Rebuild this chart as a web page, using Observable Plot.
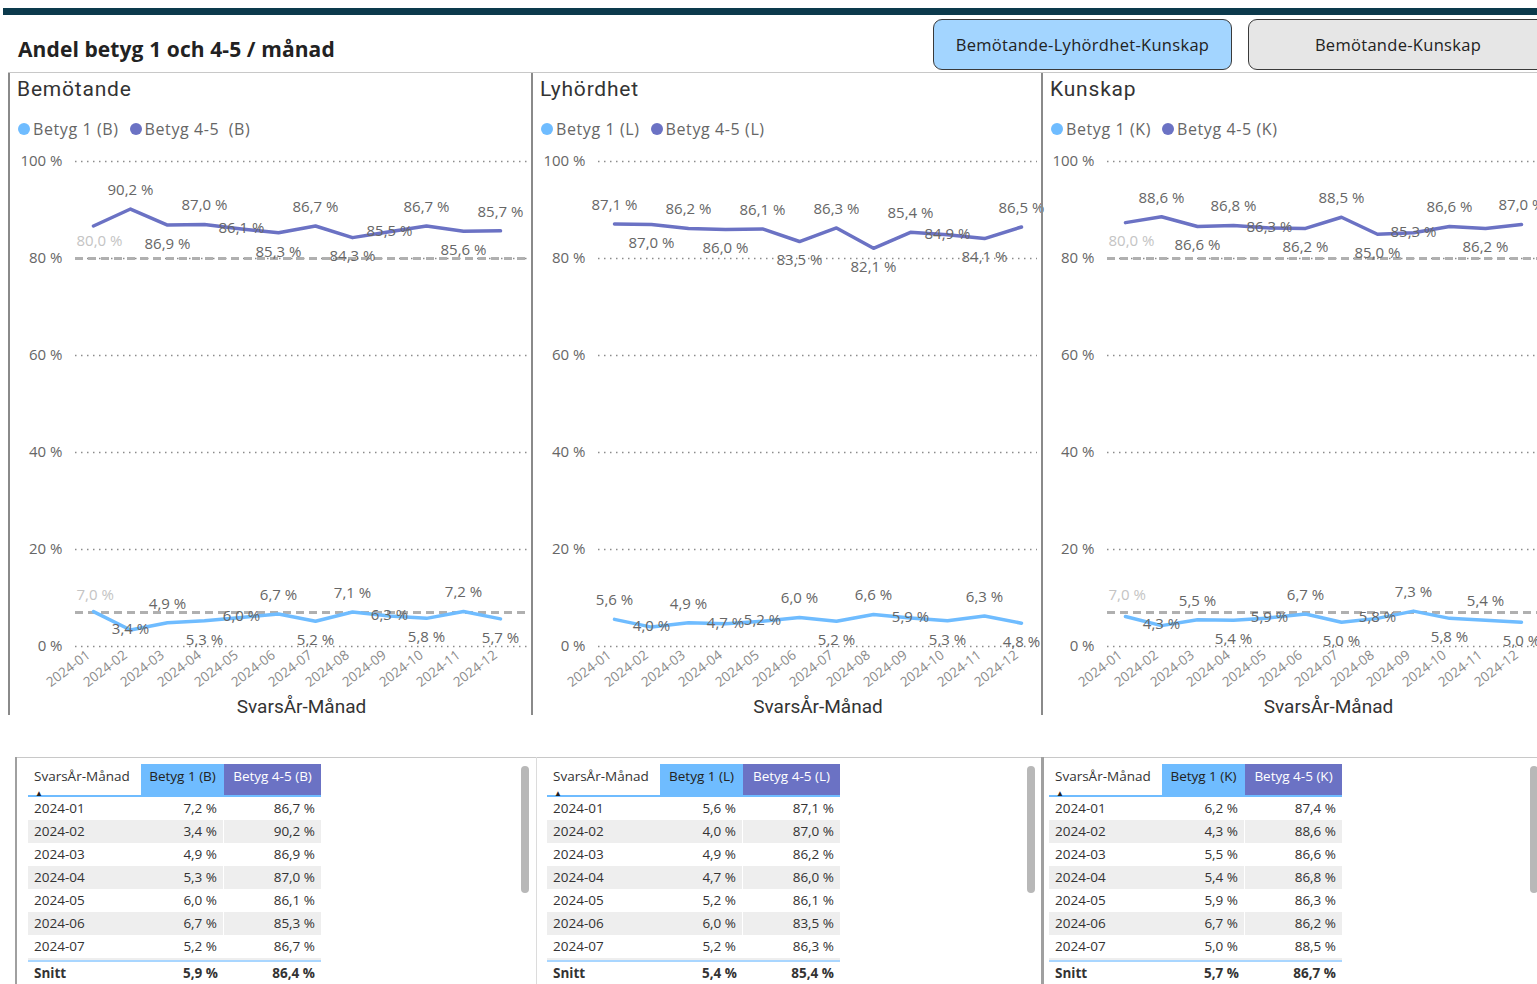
<!DOCTYPE html>
<html><head><meta charset="utf-8">
<script src="https://cdn.jsdelivr.net/npm/d3@7"></script>
<script src="https://cdn.jsdelivr.net/npm/@observablehq/plot@0.6"></script>
<style>
html,body{margin:0;padding:0;background:#fff;width:1537px;height:984px;overflow:hidden;font-family:"Open Sans",sans-serif;}
#root{position:relative;width:1537px;height:984px;overflow:hidden;}
.a{position:absolute;}
.btn{position:absolute;top:19px;height:51px;border:1.5px solid #3a3a3a;border-radius:9px;display:flex;align-items:center;justify-content:center;font-size:16.5px;letter-spacing:0.3px;color:#222;box-sizing:border-box;}
.panel{position:absolute;top:73px;height:642px;border-left:2px solid #8a8a8a;box-sizing:border-box;}
.ptitle{position:absolute;left:7px;top:4px;font-family:Roboto,sans-serif;font-size:21px;letter-spacing:0.8px;color:#333;}
.legend{position:absolute;left:8px;top:45px;font-size:16px;letter-spacing:0.6px;color:#666;white-space:pre;display:flex;align-items:center;}
.dot{display:inline-block;width:12px;height:12px;border-radius:50%;margin-right:3px;}
.chart{position:absolute;left:0;top:72px;}
.tbl{position:absolute;top:764px;font-size:13.5px;color:#333;}
.row{position:relative;height:23px;display:flex;}
.cell{box-sizing:border-box;padding:0 6px;line-height:22px;}
.scroll{position:absolute;top:766px;width:8px;height:127px;background:#b8b8b8;border-radius:4px;}
</style></head><body><div id="root"></div><script>
// ---------- data ----------
const months = ["2024-01","2024-02","2024-03","2024-04","2024-05","2024-06","2024-07","2024-08","2024-09","2024-10","2024-11","2024-12"];
const yTicks = [0, 20, 40, 60, 80, 100];
const constLines = [80, 7];
// Bemötande
const bemB1  = [7.2, 3.4, 4.9, 5.3, 6.0, 6.7, 5.2, 7.1, 6.3, 5.8, 7.2, 5.7];
const bemB45 = [86.7, 90.2, 86.9, 87.0, 86.1, 85.3, 86.7, 84.3, 85.5, 86.7, 85.6, 85.7];
// Lyhördhet
const lyhB1  = [5.6, 4.0, 4.9, 4.7, 5.2, 6.0, 5.2, 6.6, 5.9, 5.3, 6.3, 4.8];
const lyhB45 = [87.1, 87.0, 86.2, 86.0, 86.1, 83.5, 86.3, 82.1, 85.4, 84.9, 84.1, 86.5];
// Kunskap
const kunB1  = [6.2, 4.3, 5.5, 5.4, 5.9, 6.7, 5.0, 5.8, 7.3, 5.8, 5.4, 5.0];
const kunB45 = [87.4, 88.6, 86.6, 86.8, 86.3, 86.2, 88.5, 85.0, 85.3, 86.6, 86.2, 87.0];

const C1 = "#6fbcff", C45 = "#6b72c4";
const fmt = v => v.toFixed(1).replace(".", ",") + " %";
const root = document.getElementById("root");

function el(tag, cls, style, html){
  const e = document.createElement(tag);
  if (cls) e.className = cls;
  if (style) Object.assign(e.style, style);
  if (html != null) e.innerHTML = html;
  return e;
}

// ---------- header ----------
root.appendChild(el("div","a",{left:"3px",top:"8px",width:"1534px",height:"7px",background:"#0c3a4c"}));
root.appendChild(el("div","a",{left:"18px",top:"35px",fontSize:"21px",fontWeight:"700",color:"#222",letterSpacing:"0.1px"},"Andel betyg 1 och 4-5 / månad"));
root.appendChild(el("div","btn",{left:"933px",width:"299px",background:"#a3d5ff"},"Bemötande-Lyhördhet-Kunskap"));
root.appendChild(el("div","btn",{left:"1248px",width:"300px",background:"#e6e6e6"},"Bemötande-Kunskap"));
root.appendChild(el("div","a",{left:"8px",top:"72px",width:"1529px",height:"1px",background:"#c8c8c8"}));

// ---------- chart geometry ----------
const H = 570, MT = 16, MB = 69;
const pxPerPct = (H - MT - MB) / 100;
const LBL = 19; // label offset from the point, px
const minBelow = (LBL + 4) / pxPerPct; // a label below must stay above the 0 % line

// label placement: -1 above, 1 below, 0 on the line
function placements(vals){
  const n = vals.length, thr = 0.5;
  const score = vals.map((v, i) => v - d3.mean([vals[i-1], vals[i+1]].filter(x => x != null)));
  const out = score.map(s => Math.abs(s) > thr ? (s > 0 ? -1 : 1) : null);
  for (let i = 0; i < n; i++){
    if (out[i] !== null) continue;
    const prev = i > 0 ? out[i-1] : null;
    const next = i < n - 1 ? out[i+1] : null;
    if (prev && next && prev !== next) out[i] = 0;
    else if (prev) out[i] = -prev;
    else if (next) out[i] = -next;
    else out[i] = -1;
  }
  vals.forEach((v, i) => { if (out[i] === 1 && v < minBelow) out[i] = 0; });
  return out;
}

function seriesData(vals, hideFirst){
  const pl = placements(vals);
  return months.map((m, i) => ({m, v: vals[i], p: pl[i], show: !(hideFirst && i === 0)}));
}

function makePanel(cfg){
  const {left, width, title, lg1, lg2, b1, b45, ml, pad, align, consts} = cfg;
  const p = el("div","panel",{left:left+"px", width:width+"px"});
  p.appendChild(el("div","ptitle",null,title));
  const lg = el("div","legend");
  lg.appendChild(el("span","dot",{background:C1}));
  lg.appendChild(el("span",null,{marginRight:"11px"},lg1));
  lg.appendChild(el("span","dot",{background:C45}));
  lg.appendChild(el("span",null,null,lg2));
  p.appendChild(lg);

  const d1 = seriesData(b1, consts), d45 = seriesData(b45, consts);
  const lab = (d, dir) => d.filter(o => o.show && o.p === dir);
  const lblStyle = {x:"m", y:"v", text: o => fmt(o.v), fill:"#666", fontSize:15, letterSpacing:"0.2px"};

  const chart = Plot.plot({
    width: width - 2, height: H,
    marginLeft: ml, marginRight: 4, marginTop: MT, marginBottom: MB,
    style: {fontFamily: '"Open Sans", sans-serif', fontSize: "14px", color: "#666", background: "transparent", overflow: "visible"},
    x: {type: "point", domain: months, padding: pad, align: align},
    y: {domain: [0, 100]},
    marks: [
      Plot.gridY(yTicks, {stroke: "#8c8c8c", strokeOpacity: 1, strokeWidth: 1.6, strokeDasharray: "1.5,4.5"}),
      Plot.axisY(yTicks, {tickSize: 0, tickPadding: 13, tickFormat: d => d + " %", label: null, fill: "#666", fontSize: 15, letterSpacing: "0.3px"}),
      Plot.axisX({tickSize: 0, tickPadding: 4, tickRotate: -37, textAnchor: "end", label: null, fill: "#8a8a8a", fontSize: 13.5, letterSpacing: "0.3px", dx: -5, dy: 3}),
      Plot.text(["SvarsÅr-Månad"], {frameAnchor: "bottom", dy: 66, text: d => d, fontSize: 19, fill: "#333", fontFamily: "Roboto, sans-serif", letterSpacing: "1.8px"}),
      consts ? Plot.ruleY(constLines, {stroke: "#b0b0b0", strokeWidth: 3, strokeDasharray: "8,5"}) : null,
      consts ? Plot.text(constLines, {y: d => d, frameAnchor: "left", textAnchor: "start", text: d => fmt(d), dx: 1, dy: -17, fill: "#c4c4c4", fontSize: 15}) : null,
      Plot.line(d45, {x: "m", y: "v", stroke: C45, strokeWidth: 3.5, strokeLinejoin: "round"}),
      Plot.line(d1, {x: "m", y: "v", stroke: C1, strokeWidth: 3.5, strokeLinejoin: "round"}),
      Plot.text(lab(d45, -1), {...lblStyle, dy: -LBL}),
      Plot.text(lab(d45, 1), {...lblStyle, dy: LBL}),
      Plot.text(lab(d45, 0), {...lblStyle, dy: -1}),
      Plot.text(lab(d1, -1), {...lblStyle, dy: -LBL}),
      Plot.text(lab(d1, 1), {...lblStyle, dy: LBL}),
      Plot.text(lab(d1, 0), {...lblStyle, dy: -1})
    ]
  });
  chart.classList.add("chart");
  p.appendChild(chart);
  root.appendChild(p);
}

makePanel({left: 8, width: 523, title: "Bemötande", lg1: "Betyg 1 (B)", lg2: "Betyg 4-5  (B)", b1: bemB1, b45: bemB45, ml: 65, pad: 0.5, align: 0.4, consts: true});
makePanel({left: 531, width: 510, title: "Lyhördhet", lg1: "Betyg 1 (L)", lg2: "Betyg 4-5 (L)", b1: lyhB1, b45: lyhB45, ml: 65, pad: 0.4, align: 0.5, consts: false});
makePanel({left: 1041, width: 512, title: "Kunskap", lg1: "Betyg 1 (K)", lg2: "Betyg 4-5 (K)", b1: kunB1, b45: kunB45, ml: 64, pad: 0.52, align: 0.39, consts: true});

// ---------- tables ----------
root.appendChild(el("div","a",{left:"15px",top:"757px",width:"1522px",height:"1px",background:"#c8c8c8"}));
root.appendChild(el("div","a",{left:"15px",top:"757px",width:"2px",height:"227px",background:"#a0a0a0"}));
root.appendChild(el("div","a",{left:"536px",top:"757px",width:"1px",height:"227px",background:"#dcdcdc"}));
root.appendChild(el("div","a",{left:"1041px",top:"757px",width:"3px",height:"227px",background:"#a0a0a0"}));

function makeTable(left, key, b1, b45, scrollX){
  const t = el("div","tbl",{left:left+"px"});
  const w = [113, 83, 97];
  const hdr = el("div","row",{height:"33px",borderBottom:"2px solid #6fbcff",boxSizing:"border-box"});
  hdr.appendChild(el("div","cell",{width:w[0]+"px",lineHeight:"24px",fontSize:"13.5px",position:"relative"},"SvarsÅr-Månad<span style='position:absolute;left:7px;top:17px;font-size:8px;color:#222'>▲</span>"));
  hdr.appendChild(el("div","cell",{width:w[1]+"px",background:C1,color:"#222",lineHeight:"24px",textAlign:"center"},"Betyg 1 ("+key+")"));
  hdr.appendChild(el("div","cell",{width:w[2]+"px",background:C45,color:"#fff",lineHeight:"24px",textAlign:"center"},"Betyg 4-5 ("+key+")"));
  t.appendChild(hdr);
  for (let i = 0; i < 7; i++){
    const r = el("div","row",{background: i % 2 ? "#eeeeee" : "#fff"});
    r.appendChild(el("div","cell",{width:w[0]+"px"},months[i]));
    r.appendChild(el("div","cell",{width:w[1]+"px",textAlign:"right",borderRight:"1px solid #fff"},fmt(b1[i])));
    r.appendChild(el("div","cell",{width:w[2]+"px",textAlign:"right"},fmt(b45[i])));
    t.appendChild(r);
  }
  t.appendChild(el("div",null,{height:"2px",background:"#eeeeee"}));
  const tot = el("div","row",{borderTop:"2px solid #a9d6ff",fontWeight:"700",height:"25px"});
  tot.appendChild(el("div","cell",{width:w[0]+"px"},"Snitt"));
  tot.appendChild(el("div","cell",{width:w[1]+"px",textAlign:"right"},fmt(d3.mean(b1))));
  tot.appendChild(el("div","cell",{width:w[2]+"px",textAlign:"right"},fmt(d3.mean(b45))));
  t.appendChild(tot);
  root.appendChild(t);
  root.appendChild(el("div","scroll",{left:scrollX+"px"}));
}
makeTable(28, "B", bemB1, bemB45, 521);
makeTable(547, "L", lyhB1, lyhB45, 1027);
makeTable(1049, "K", kunB1, kunB45, 1530);
</script></body></html>
